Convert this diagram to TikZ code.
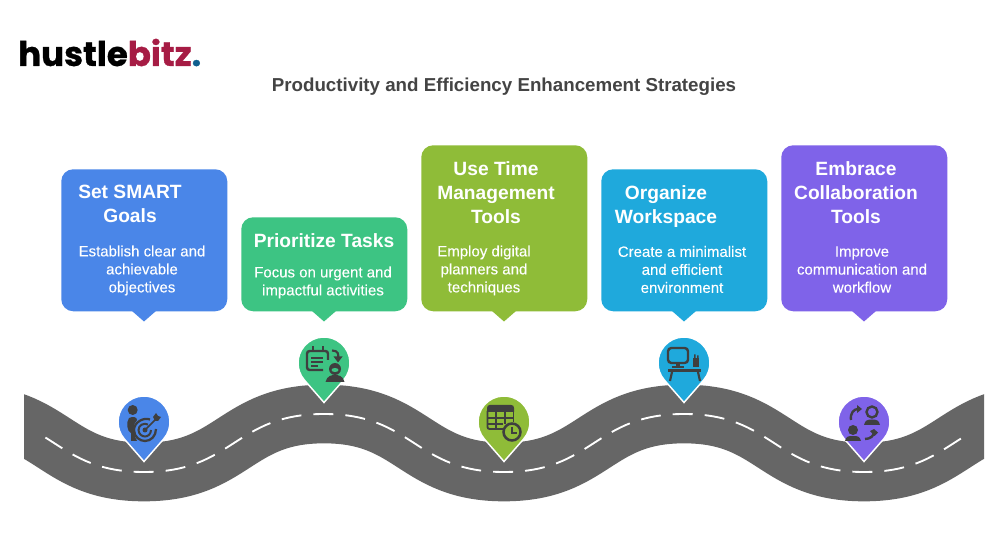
\documentclass[tikz,border=0pt]{standalone}
\usepackage{fontspec}
\setmainfont{Liberation Sans}
\newfontfamily\logofont[BoldFeatures={FakeBold=0.8}]{Poppins}
\newfontfamily\descfont[FakeBold=0.12]{Liberation Sans}
\definecolor{cblue}{HTML}{4A86E8}
\definecolor{cgreen}{HTML}{3DC483}
\definecolor{clime}{HTML}{8FBC38}
\definecolor{csky}{HTML}{1FA9DC}
\definecolor{cpurple}{HTML}{7F63E9}
\definecolor{croad}{HTML}{666666}
\definecolor{cicon}{HTML}{3F3F3F}
\definecolor{ctitle}{HTML}{444444}
\definecolor{logored}{HTML}{A61C44}
\definecolor{logoblue}{HTML}{0F5F8F}
\tikzset{
  x=0.75pt,y=-0.75pt,
  card/.style={fill=#1,rounded corners=9pt,minimum width=124.5pt,inner sep=0pt,anchor=north west},
  head/.style={text=white,align=center,font=\fontsize{14.4pt}{18pt}\bfseries\selectfont},
  desc/.style={text=white,align=center,font=\fontsize{11.25pt}{13.5pt}\descfont\selectfont},
  ico/.style={cicon,line width=1.8pt},
}
\newcommand{\pinshape}[3]{%
  \begin{scope}[shift={(#1,#2)},x=0.75pt,y=0.75pt]
    \fill[#3,draw=white,line width=1.1pt,line join=miter]
      (0,-39.5) -- (-41.2:26) arc (-41.2:221.2:26) -- cycle;
  \end{scope}}
\newcommand{\cardbox}[5]{% name, x, y, h, colour
  \node[card=#5,minimum height=#4*0.75pt] (#1) at (#2,#3) {};
  \fill[#5] (#2+71,311) -- (#2+83,321.5) -- (#2+95,311) -- cycle;}
\newcommand{\roadpath}{(-36,414) .. controls (54,414) and (54,472) .. (144,472)
  .. controls (234,472) and (234,414) .. (324,414)
  .. controls (414,414) and (414,472) .. (504,472)
  .. controls (594,472) and (594,414) .. (684,414)
  .. controls (774,414) and (774,472) .. (864,472)
  .. controls (954,472) and (954,414) .. (1044,414)}
\begin{document}
\begin{tikzpicture}
\useasboundingbox (0,0) rectangle (1008,552);
\fill[white] (0,0) rectangle (1008,552);
% logo and title
\node[anchor=base west,inner sep=0pt,font=\fontsize{25.5pt}{30pt}\logofont\bfseries\selectfont] (logo) at (18,66)
  {hustle\textcolor{logored}{bitz}\textcolor{logoblue}{.}};
\node[inner sep=0pt,text=ctitle,font=\fontsize{14.05pt}{18pt}\bfseries\selectfont] (title) at (504,86.5)
  {Productivity and Efficiency Enhancement Strategies};
% road
\begin{scope}
  \clip (24,300) rectangle (984,540);
  \draw[croad,line width=44pt,line cap=butt] \roadpath;
\end{scope}
\begin{scope}
  \clip (43,300) rectangle (965,540);
  \draw[white,line width=1.4pt,dash pattern=on 15pt off 9.02pt,dash phase=7.5pt] \roadpath;
\end{scope}
% cards
\cardbox{c1}{61}{169}{142}{cblue}
\cardbox{c2}{241}{217}{94}{cgreen}
\cardbox{c3}{421}{145}{166}{clime}
\cardbox{c4}{601}{169}{142}{csky}
\cardbox{c5}{781}{145}{166}{cpurple}
\node[head] (h1) at (130,204.3) {Set SMART\\Goals};
\node[desc] (d1) at (142,270.5) {Establish clear and\\achievable\\objectives};
\node[head] (h2) at (324,240.5) {Prioritize Tasks};
\node[desc] (d2) at (323,282.5) {Focus on urgent and\\impactful activities};
\node[head] (h3) at (496,193) {Use Time\\Management\\Tools};
\node[desc] (d3) at (484,270.5) {Employ digital\\planners and\\techniques};
\node[head] (h4) at (666,206.5) {Organize\\Workspace};
\node[desc] (d4) at (682,269.5) {Create a minimalist\\and efficient\\environment};
\node[head] (h5) at (856,193) {Embrace\\Collaboration\\Tools};
\node[desc] (d5) at (862,269.5) {Improve\\communication and\\workflow};
% pins
\pinshape{144}{422}{cblue}
\pinshape{324}{363}{cgreen}
\pinshape{504}{422}{clime}
\pinshape{684}{363}{csky}
\pinshape{864}{422}{cpurple}
% icon 1: person and target
\fill[cicon] (132.7,410) circle (5);
\fill[cicon] (129,418) .. controls (133,416) and (137,417) .. (137,420) .. controls (133,424) and (132,432) .. (137,441) -- (131,441) -- (131,433) .. controls (127,432) and (126,422) .. (129,418) -- cycle;
\draw[ico,line width=1.7pt] (150,419.5) .. controls (144,417) and (134,422) .. (134,430) .. controls (134,437) and (140,441) .. (145,441) .. controls (151,441) and (156,436) .. (156,429);
\draw[ico,line width=1.5pt] (148,424.5) .. controls (144,422.5) and (138.5,425) .. (138.5,430) .. controls (138.5,434) and (142,436.5) .. (145,436.5) .. controls (148,436.5) and (151,434) .. (151,430);
\fill[cicon] (145,430) circle (2.5);
\draw[ico,line width=1.3pt] (145,430) -- (156,419);
\fill[cicon] (153,417) -- (156,413) -- (158,416) -- (161,417) -- (158,421) -- (155,421) -- cycle;
% icon 2: calendar and person
\draw[ico,rounded corners=2pt] (328,360) -- (328,351) -- (307,351) -- (307,370) -- (323,370);
\draw[ico] (313,346.5) -- (313,352) (323,346.5) -- (323,352);
\draw[ico,line width=1.3pt] (311,358) -- (323,358) (311,362) -- (323,362) (311,366) -- (318,366);
\draw[ico,line width=1.6pt] (332,350.5) .. controls (338,350.5) and (339,354) .. (338,359);
\fill[cicon] (333.5,356.5) -- (342.5,356.5) -- (338,362.5) -- cycle;
\fill[cicon] (335,369) circle (6);
\fill[cgreen] (335,370) ellipse (3.5 and 2);
\fill[cicon] (325.5,382) .. controls (327,376) and (331,375) .. (335,375) .. controls (339,375) and (343,376) .. (344.5,382) -- cycle;
% icon 3: table and clock
\fill[cicon] (487,408) .. controls (487,406) and (488,405) .. (490,405) -- (511,405) .. controls (513,405) and (514,406) .. (514,408) -- (514,412) -- (487,412) -- cycle;
\draw[ico,line width=1.4pt,rounded corners=1.5pt] (487.5,411) -- (487.5,429) -- (503,429);
\draw[ico,line width=1.4pt] (487.5,418) -- (513,418) (487.5,424) -- (503,424) (496,411) -- (496,429) (505,411) -- (505,424) (513.5,411) -- (513.5,422);
\fill[clime,draw=cicon,line width=1.9pt] (512,432) circle (8.5);
\draw[ico,line width=1.3pt] (512,427) -- (512,433) -- (517,433);
% icon 4: desk and monitor
\draw[ico,rounded corners=2.5pt] (668,348) rectangle (688,363);
\fill[cicon] (676,363) rectangle (680,367);
\fill[cicon] (672,366) rectangle (684,368);
\fill[cicon] (668,369) rectangle (701,372);
\draw[ico,line width=1.6pt] (672,372) -- (670,381) (698,372) -- (700,381);
\fill[cicon] (693,358) rectangle (699,367);
\fill[cicon] (694,354.5) rectangle (695.5,358) (697,355.5) rectangle (698.5,358);
% icon 5: collaboration
\draw[ico] (872,412) circle (5.5);
\fill[cicon] (864,425) .. controls (865,420) and (868,419.5) .. (872,419.5) .. controls (876,419.5) and (879,420) .. (880,425) -- cycle;
\fill[cicon] (853,430) circle (5);
\fill[cicon] (845,441) .. controls (846,436) and (849,436) .. (853,436) .. controls (857,436) and (860,436) .. (861,441) -- cycle;
\draw[ico] (851,420) .. controls (850,413) and (854,409) .. (858,409);
\fill[cicon] (857,405) -- (862,409) -- (857,413) -- cycle;
\draw[ico] (865,439) .. controls (870,439) and (874,436) .. (874,432);
\fill[cicon] (870,431) -- (874,429) -- (878,432.5) -- (874.5,436) -- cycle;
\end{tikzpicture}
\end{document}
